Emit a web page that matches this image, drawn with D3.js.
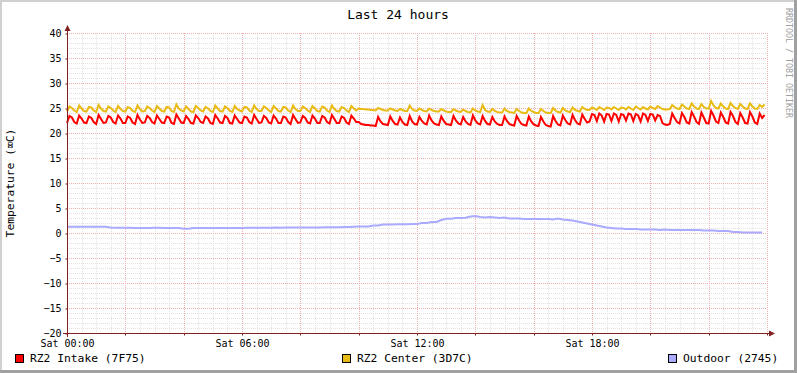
<!DOCTYPE html>
<html>
<head>
<meta charset="utf-8">
<script src="https://cdn.jsdelivr.net/npm/d3@7"></script>
<style>
  html, body { margin: 0; padding: 0; background: #fff; }
  svg text { font-family: "DejaVu Sans Mono", monospace; }
</style>
</head>
<body>
<div id="chart"></div>
<script>
// --- data (5 minute samples from Sat 00:00) ---
const intakeStepMin = 5;
const intake = [
  22.0,23.4,23.1,22.2, 21.9,23.5,22.9,22.1, 22.0,23.3,23.0,22.2,
  21.8,23.6,22.8,22.0, 22.1,23.4,23.1,22.2, 21.9,23.5,22.9,22.0,
  22.0,23.3,23.0,22.1, 21.8,23.6,22.7,22.0, 22.1,23.4,23.0,22.2,
  21.9,23.5,22.8,22.1, 22.0,23.3,23.1,22.0, 21.8,23.7,22.9,22.1,
  22.0,23.4,22.8,22.0, 21.9,23.5,23.0,22.2, 22.0,23.3,22.9,22.0,
  21.8,23.6,22.9,22.1, 22.0,23.4,23.0,22.0, 21.9,23.5,22.8,22.1,
  22.0,23.3,23.1,22.2, 21.9,23.6,22.8,22.0, 22.1,23.4,23.0,22.1,
  21.9,23.5,22.9,22.0, 22.0,23.3,23.1,22.2, 21.8,23.6,22.8,22.0,
  22.1,23.4,23.0,22.1, 21.9,23.5,22.9,22.0, 22.0,23.4,23.1,22.2,
  21.9,23.6,22.8,22.0, 22.0,23.3,23.0,22.1, 21.8,23.5,22.9,22.2,
  22.2,21.8,21.7,21.6, 21.6,21.5,21.5,21.4, 23.2,22.3,21.8,21.7,
  21.6,23.3,22.4,21.8, 21.7,23.1,22.2,21.7, 21.6,23.4,22.3,21.8,
  21.7,23.2,22.4,21.9, 21.7,23.5,22.5,21.9, 21.7,21.6,23.3,22.4,
  21.8,21.7,21.6,23.4, 22.5,21.9,21.7,23.2, 22.3,21.8,21.6,23.5,
  22.5,21.9,21.7,23.4, 22.4,21.8,21.7,23.2, 22.3,21.8,21.6,21.6,
  23.3,22.4,21.8,21.6, 21.5,23.4,22.5,21.8, 21.6,21.5,23.3,22.3,
  21.7,21.5,21.4,23.2, 22.3,21.6,21.4,21.3, 23.4,22.4,21.7,21.5,
  23.5,22.6,21.9,21.7, 23.6,22.6,21.9,21.7, 23.7,22.8,22.1,22.3,
  23.8,23.6,22.4, 23.9,23.5,22.3, 23.8,23.7,22.4, 23.9,23.6,22.3,
  23.8,23.6,22.5, 23.9,23.7,22.4, 23.8,23.5,22.3, 23.9,23.6,22.4,
  23.8,23.7,22.5, 23.6,23.4,22.0, 21.7,21.6,21.8, 23.9,23.0,22.2,
  21.9,24.0,23.2,22.1, 21.9,24.2,23.3,22.2, 21.8,24.1,23.1,22.0,
  21.9,24.4,23.5,22.3, 22.0,24.1,23.2,22.1, 21.9,24.2,23.4,22.2,
  21.8,24.0,23.1,22.0, 21.9,24.2,23.3,22.1, 21.8,23.9,23.0,23.6
];

const centerStepMin = 5;
const center = [
  24.3,25.3,25.0,24.5, 24.2,25.5,24.9,24.4, 24.3,25.2,25.1,24.5,
  24.2,25.6,24.9,24.4, 24.3,25.3,25.0,24.5, 24.2,25.4,24.8,24.4,
  24.3,25.2,25.0,24.4, 24.2,25.5,24.8,24.3, 24.4,25.3,25.0,24.5,
  24.2,25.4,24.9,24.4, 24.3,25.2,25.1,24.4, 24.2,25.7,24.9,24.5,
  24.3,25.3,24.8,24.3, 24.2,25.4,25.0,24.5, 24.3,25.2,24.9,24.4,
  24.2,25.5,24.9,24.4, 24.3,25.3,25.0,24.4, 24.2,25.4,24.8,24.5,
  24.3,25.2,25.1,24.5, 24.2,25.5,24.8,24.4, 24.4,25.3,25.0,24.5,
  24.2,25.4,24.9,24.4, 24.3,25.2,25.1,24.5, 24.2,25.5,24.8,24.4,
  24.4,25.3,25.0,24.5, 24.2,25.4,24.9,24.4, 24.3,25.3,25.1,24.5,
  24.2,25.5,24.8,24.4, 24.3,25.2,25.0,24.5, 24.2,25.4,24.9,24.5,
  24.9,24.8,24.8,24.7, 24.7,24.6,24.6,24.5, 25.0,24.8,24.6,24.5,
  24.5,24.9,24.7,24.5, 24.4,24.8,24.6,24.4, 24.4,25.5,24.8,24.5,
  24.4,24.9,24.6,24.4, 24.3,24.9,24.6,24.4, 24.3,24.3,24.8,24.5,
  24.3,24.2,24.2,24.8, 24.5,24.3,24.2,24.7, 24.4,24.2,24.1,24.9,
  24.5,24.3,24.2,25.6, 24.6,24.3,24.2,24.8, 24.4,24.2,24.1,24.1,
  24.9,24.4,24.2,24.1, 24.0,24.8,24.4,24.1, 24.0,24.0,24.9,24.4,
  24.2,24.0,24.0,24.8, 24.4,24.1,24.0,24.0, 25.0,24.5,24.2,24.1,
  25.0,24.5,24.3,24.2, 25.1,24.6,24.4,24.3, 25.2,24.8,24.6,24.6,
  25.1,24.9,24.6, 25.2,24.9,24.6, 25.1,25.0,24.7, 25.2,24.9,24.6,
  25.1,25.0,24.7, 25.2,24.9,24.6, 25.3,25.0,24.7, 25.2,24.9,24.7,
  25.3,25.0,24.8, 25.4,25.1,24.8, 24.7,24.7,24.8, 25.6,25.2,24.9,
  24.8,25.7,25.3,24.9, 24.8,25.9,25.3,24.9, 24.8,25.8,25.2,24.9,
  24.9,26.4,25.5,25.0, 24.9,25.9,25.3,24.9, 24.8,26.0,25.4,25.0,
  24.8,25.8,25.3,24.9, 24.8,25.9,25.3,24.9, 24.8,25.6,25.2,25.7
];

// 10 minute samples
const outdoorStepMin = 10;
const outdoor = [
  1.25,1.25,1.25,1.25,1.25,1.25,1.25,1.25,1.25,1.1,1.05,1.05,
  1.05,1.05,1.0,1.0,1.0,1.0,1.05,1.05,1.0,1.0,1.0,1.0,
  0.85,0.85,1.0,1.0,1.0,1.0,1.0,1.0,1.0,1.0,1.0,1.0,
  1.0,1.05,1.05,1.05,1.05,1.05,1.05,1.1,1.05,1.1,1.1,1.1,
  1.1,1.1,1.1,1.1,1.1,1.15,1.15,1.15,1.15,1.2,1.2,1.25,
  1.3,1.3,1.3,1.5,1.5,1.7,1.7,1.7,1.75,1.75,1.75,1.8,
  1.8,2.0,2.0,2.2,2.2,2.6,2.85,2.85,3.0,3.0,3.05,3.3,
  3.4,3.2,3.1,3.2,3.1,3.0,3.1,2.9,2.9,2.9,2.8,2.8,
  2.8,2.8,2.8,2.8,2.7,2.9,2.7,2.6,2.5,2.3,2.1,1.9,
  1.7,1.5,1.3,1.1,1.0,0.9,0.9,0.8,0.8,0.8,0.7,0.7,
  0.7,0.7,0.6,0.7,0.6,0.6,0.6,0.6,0.6,0.6,0.6,0.5,
  0.5,0.5,0.4,0.4,0.4,0.2,0.2,0.1,0.1,0.1,0.1,0.1
];

const seriesNames = ["RZ2 Intake (7F75)", "RZ2 Center (3D7C)", "Outdoor (2745)"];
const seriesColors = ["#FF0000", "#E8BC14", "#AAAAFF"];

const yTickValues = [-20, -15, -10, -5, 0, 5, 10, 15, 20, 25, 30, 35, 40];
const xTickHours = [0, 6, 12, 18];
const xTickLabels = ["Sat 00:00", "Sat 06:00", "Sat 12:00", "Sat 18:00"];

// --- layout ---
const W = 797, H = 373;
const plot = { left: 67, top: 33, width: 700, height: 300 };
const axisColor = "#802020";

const svg = d3.select("#chart").append("svg")
  .attr("width", W).attr("height", H);

// background + shaded frame
svg.append("rect").attr("width", W).attr("height", H).attr("fill", "#fff");
svg.append("rect").attr("x", 0).attr("y", 0).attr("width", W).attr("height", 2).attr("fill", "#d0d0d0");
svg.append("rect").attr("x", 0).attr("y", 0).attr("width", 2).attr("height", H).attr("fill", "#d0d0d0");
svg.append("rect").attr("x", 0).attr("y", H - 3).attr("width", W).attr("height", 3).attr("fill", "#a0a0a0");
svg.append("rect").attr("x", W - 3).attr("y", 0).attr("width", 3).attr("height", H).attr("fill", "#a0a0a0");

const x = d3.scaleLinear().domain([0, 1440]).range([plot.left, plot.left + plot.width]);
const y = d3.scaleLinear().domain([-20, 40]).range([plot.top + plot.height, plot.top]);

const px = v => Math.round(v) + 0.5;

// grid (minor 1 unit / 30 min, major 5 units / 2 h)
const gridG = svg.append("g").attr("shape-rendering", "crispEdges");
const minorY = d3.range(-20, 41, 1).filter(v => v % 5 !== 0);
const majorY = yTickValues;
const minorX = d3.range(0, 1441, 30).filter(m => m % 120 !== 0);
const majorX = d3.range(0, 1441, 120);

gridG.selectAll(".gy").data(minorY).join("line")
  .attr("x1", plot.left).attr("x2", plot.left + plot.width)
  .attr("y1", d => px(y(d))).attr("y2", d => px(y(d)))
  .attr("stroke", "#e2e2e2").attr("stroke-dasharray", "1,1");
gridG.selectAll(".gx").data(minorX).join("line")
  .attr("y1", plot.top).attr("y2", plot.top + plot.height)
  .attr("x1", d => px(x(d))).attr("x2", d => px(x(d)))
  .attr("stroke", "#e2e2e2").attr("stroke-dasharray", "1,1");
gridG.selectAll(".my").data(majorY).join("line")
  .attr("x1", plot.left).attr("x2", plot.left + plot.width)
  .attr("y1", d => px(y(d))).attr("y2", d => px(y(d)))
  .attr("stroke", "#eeb0b0").attr("stroke-dasharray", "1,1");
gridG.selectAll(".mx").data(majorX).join("line")
  .attr("y1", plot.top).attr("y2", plot.top + plot.height)
  .attr("x1", d => px(x(d))).attr("x2", d => px(x(d)))
  .attr("stroke", "#eeb0b0").attr("stroke-dasharray", "1,1");

// series
const line = d3.line().x(d => x(d[0])).y(d => y(d[1]));
const series = [
  intake.map((v, i) => [i * intakeStepMin, v]),
  center.map((v, i) => [i * centerStepMin, v]),
  outdoor.map((v, i) => [i * outdoorStepMin, v])
];
[2, 1, 0].forEach(k => {
  svg.append("path")
    .attr("d", line(series[k]))
    .attr("fill", "none")
    .attr("stroke", seriesColors[k])
    .attr("stroke-width", 2)
    .attr("stroke-linejoin", "miter");
});

// axes
const yAxis = d3.axisLeft(y).tickValues(yTickValues).tickSize(2).tickPadding(4);
const yAxisG = svg.append("g").attr("transform", `translate(${px(plot.left)},0)`).call(yAxis);
yAxisG.select(".domain").remove();
yAxisG.selectAll(".tick line").attr("stroke", axisColor).attr("transform", "translate(0,0.5)");
yAxisG.selectAll("text").attr("font-size", "10px").attr("fill", "#000")
  .style("font-family", "DejaVu Sans Mono");

const xAxis = d3.axisBottom(x).tickValues(xTickHours.map(h => h * 60))
  .tickFormat((d, i) => xTickLabels[i]).tickSize(0).tickPadding(6);
const xAxisG = svg.append("g").attr("transform", `translate(0,${px(plot.top + plot.height)})`).call(xAxis);
xAxisG.select(".domain").remove();
xAxisG.selectAll(".tick").attr("transform", d => `translate(${px(x(d))},0)`);
xAxisG.selectAll("text").attr("font-size", "10px").attr("fill", "#000")
  .style("font-family", "DejaVu Sans Mono");

const xTicks = d3.axisBottom(x).tickValues(majorX).tickSize(2).tickFormat("");
const xTicksG = svg.append("g").attr("transform", `translate(0,${px(plot.top + plot.height)})`).call(xTicks);
xTicksG.select(".domain").remove();
xTicksG.selectAll(".tick").attr("transform", d => `translate(${px(x(d))},0)`);
xTicksG.selectAll("line").attr("stroke", axisColor);

// axis lines with arrows
const axG = svg.append("g").attr("shape-rendering", "crispEdges");
axG.append("line")
  .attr("x1", px(plot.left)).attr("x2", px(plot.left))
  .attr("y1", plot.top + plot.height + 4).attr("y2", plot.top - 4)
  .attr("stroke", axisColor);
axG.append("line")
  .attr("x1", plot.left - 4).attr("x2", plot.left + plot.width + 4)
  .attr("y1", px(plot.top + plot.height)).attr("y2", px(plot.top + plot.height))
  .attr("stroke", axisColor);
const ax = px(plot.left), ay = px(plot.top + plot.height);
svg.append("path")
  .attr("d", `M${ax - 3},${plot.top - 2} L${ax + 3},${plot.top - 2} L${ax},${plot.top - 8} Z`)
  .attr("fill", axisColor);
svg.append("path")
  .attr("d", `M${plot.left + plot.width + 2},${ay - 3} L${plot.left + plot.width + 2},${ay + 3} L${plot.left + plot.width + 8},${ay} Z`)
  .attr("fill", axisColor);

// title + labels
svg.append("text")
  .attr("x", 398).attr("y", 19)
  .attr("text-anchor", "middle")
  .attr("font-size", "13px")
  .text("Last 24 hours");

svg.append("text")
  .attr("transform", `translate(14,${plot.top + plot.height / 2}) rotate(-90)`)
  .attr("text-anchor", "middle")
  .attr("font-size", "11.3px")
  .text("Temperature (\u2327C)");

svg.append("text")
  .attr("transform", "translate(786,8) rotate(90)")
  .attr("text-anchor", "start")
  .attr("font-size", "8.3px")
  .attr("fill", "#a0a0a0")
  .text("RRDTOOL / TOBI OETIKER");

// legend
const legendX = [15, 342, 668];
const legend = svg.append("g");
seriesNames.forEach((name, i) => {
  legend.append("rect")
    .attr("x", legendX[i] + 0.5).attr("y", 354.5)
    .attr("width", 8).attr("height", 8)
    .attr("fill", seriesColors[i])
    .attr("stroke", "#000");
  legend.append("text")
    .attr("x", legendX[i] + 15).attr("y", 362)
    .attr("font-size", "11.3px")
    .text(name);
});
</script>
</body>
</html>
